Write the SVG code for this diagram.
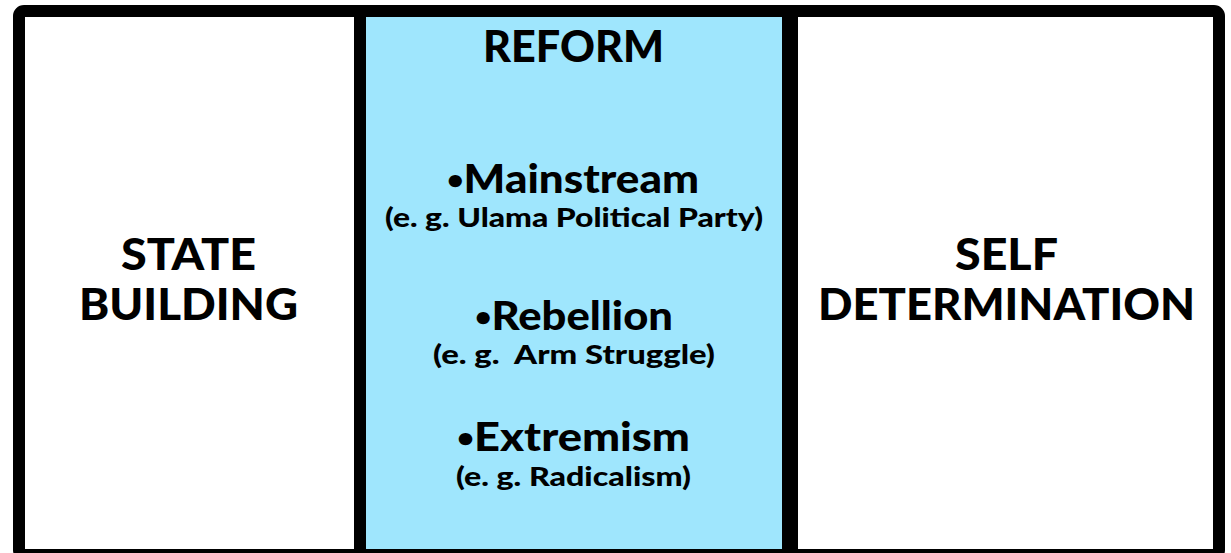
<svg xmlns="http://www.w3.org/2000/svg" width="1231" height="553" viewBox="0 0 1231 553">
<style>
  text { font-family: Lato, "Open Sans", "Liberation Sans", sans-serif; font-weight: 900; fill: #000; text-anchor: middle; }
  .big { font-size: 44px; }
  .item { font-size: 40px; }
  .sub { font-size: 27px; }
  .bul { font-size: 26px; }
  .div { fill: #000; }
</style>
<rect width="1231" height="553" fill="#ffffff"/>
<g id="reform">
  <rect x="366" y="17" width="416" height="532" fill="#9fe6fd"/>
  <text class="big" x="573.5" y="62" textLength="181" lengthAdjust="spacingAndGlyphs">REFORM</text>
  <text class="item" x="573" y="193" textLength="252" lengthAdjust="spacingAndGlyphs"><tspan class="bul" dy="-4">•</tspan><tspan dy="4">Mainstream</tspan></text>
  <text class="sub" x="574" y="227" textLength="378" lengthAdjust="spacingAndGlyphs">(e. g. Ulama Political Party)</text>
  <text class="item" x="574" y="330" textLength="198" lengthAdjust="spacingAndGlyphs"><tspan class="bul" dy="-4">•</tspan><tspan dy="4">Rebellion</tspan></text>
  <text class="sub" x="574" y="364" textLength="282" lengthAdjust="spacingAndGlyphs" xml:space="preserve">(e. g.  Arm Struggle)</text>
  <text class="item" x="573.5" y="451" textLength="233" lengthAdjust="spacingAndGlyphs"><tspan class="bul" dy="-4">•</tspan><tspan dy="4">Extremism</tspan></text>
  <text class="sub" x="573.5" y="486" textLength="235" lengthAdjust="spacingAndGlyphs">(e. g. Radicalism)</text>
</g>
<g id="state-building">
  <text class="big" x="188.5" y="270" textLength="135" lengthAdjust="spacingAndGlyphs">STATE</text>
  <text class="big" x="188.5" y="320" textLength="219" lengthAdjust="spacingAndGlyphs">BUILDING</text>
</g>
<g id="self-determination">
  <text class="big" x="1006.5" y="270" textLength="103" lengthAdjust="spacingAndGlyphs">SELF</text>
  <text class="big" x="1006.5" y="320" textLength="377" lengthAdjust="spacingAndGlyphs">DETERMINATION</text>
</g>
<g id="frame">
  <rect x="19" y="11" width="1200" height="544" rx="5" fill="none" stroke="#000" stroke-width="12"/>
  <rect class="div" x="354" y="11" width="12" height="544"/>
  <rect class="div" x="782" y="11" width="16" height="544"/>
</g>
</svg>
